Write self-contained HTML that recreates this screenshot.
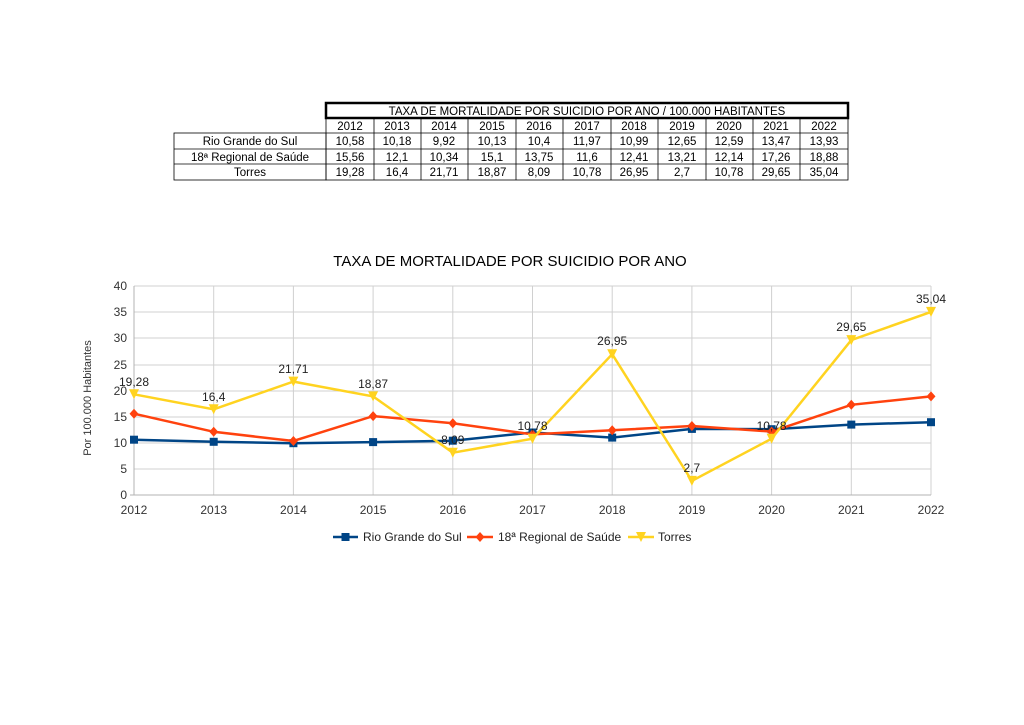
<!DOCTYPE html>
<html><head><meta charset="utf-8"><style>
body{margin:0;background:#fff;}
svg{display:block;font-family:"Liberation Sans",sans-serif;}
</style></head><body>
<svg width="1024" height="725" viewBox="0 0 1024 725">
<rect width="1024" height="725" fill="#fff"/>
<g font-size="11.5" fill="#000" text-anchor="middle">
<rect x="326" y="103" width="522" height="15" fill="none" stroke="#000" stroke-width="2.5"/>
<text x="587" y="115">TAXA DE MORTALIDADE POR SUICIDIO POR ANO / 100.000 HABITANTES</text>
<g stroke="#000" stroke-width="0.8" fill="none">
<rect x="326" y="118" width="522" height="62"/>
<rect x="174" y="133" width="152" height="47"/>
<line x1="174" y1="149" x2="848" y2="149"/><line x1="174" y1="164" x2="848" y2="164"/><line x1="326" y1="133" x2="848" y2="133"/>
<line x1="374" y1="118" x2="374" y2="180"/><line x1="421" y1="118" x2="421" y2="180"/><line x1="468" y1="118" x2="468" y2="180"/><line x1="516" y1="118" x2="516" y2="180"/><line x1="563" y1="118" x2="563" y2="180"/><line x1="611" y1="118" x2="611" y2="180"/><line x1="658" y1="118" x2="658" y2="180"/><line x1="706" y1="118" x2="706" y2="180"/><line x1="753" y1="118" x2="753" y2="180"/><line x1="800" y1="118" x2="800" y2="180"/>
</g>
<text x="250" y="145">Rio Grande do Sul</text><text x="250" y="161">18ª Regional de Saúde</text><text x="250" y="176">Torres</text>
<g>
<text x="350" y="130">2012</text><text x="397" y="130">2013</text><text x="444" y="130">2014</text><text x="492" y="130">2015</text><text x="539" y="130">2016</text><text x="587" y="130">2017</text><text x="634" y="130">2018</text><text x="682" y="130">2019</text><text x="729" y="130">2020</text><text x="776" y="130">2021</text><text x="824" y="130">2022</text>
<text x="350" y="145">10,58</text><text x="397" y="145">10,18</text><text x="444" y="145">9,92</text><text x="492" y="145">10,13</text><text x="539" y="145">10,4</text><text x="587" y="145">11,97</text><text x="634" y="145">10,99</text><text x="682" y="145">12,65</text><text x="729" y="145">12,59</text><text x="776" y="145">13,47</text><text x="824" y="145">13,93</text>
<text x="350" y="161">15,56</text><text x="397" y="161">12,1</text><text x="444" y="161">10,34</text><text x="492" y="161">15,1</text><text x="539" y="161">13,75</text><text x="587" y="161">11,6</text><text x="634" y="161">12,41</text><text x="682" y="161">13,21</text><text x="729" y="161">12,14</text><text x="776" y="161">17,26</text><text x="824" y="161">18,88</text>
<text x="350" y="176">19,28</text><text x="397" y="176">16,4</text><text x="444" y="176">21,71</text><text x="492" y="176">18,87</text><text x="539" y="176">8,09</text><text x="587" y="176">10,78</text><text x="634" y="176">26,95</text><text x="682" y="176">2,7</text><text x="729" y="176">10,78</text><text x="776" y="176">29,65</text><text x="824" y="176">35,04</text>
</g></g>
<text x="510" y="266" font-size="15" text-anchor="middle">TAXA DE MORTALIDADE POR SUICIDIO POR ANO</text>
<g stroke="#d0d0d0" stroke-width="1">
<line x1="134" y1="286" x2="931" y2="286"/><line x1="134" y1="312" x2="931" y2="312"/><line x1="134" y1="338" x2="931" y2="338"/><line x1="134" y1="365" x2="931" y2="365"/><line x1="134" y1="391" x2="931" y2="391"/><line x1="134" y1="417" x2="931" y2="417"/><line x1="134" y1="443" x2="931" y2="443"/><line x1="134" y1="469" x2="931" y2="469"/>
<line x1="213.7" y1="286" x2="213.7" y2="495"/><line x1="293.4" y1="286" x2="293.4" y2="495"/><line x1="373.1" y1="286" x2="373.1" y2="495"/><line x1="452.8" y1="286" x2="452.8" y2="495"/><line x1="532.5" y1="286" x2="532.5" y2="495"/><line x1="612.2" y1="286" x2="612.2" y2="495"/><line x1="691.9" y1="286" x2="691.9" y2="495"/><line x1="771.6" y1="286" x2="771.6" y2="495"/><line x1="851.3" y1="286" x2="851.3" y2="495"/><line x1="931" y1="286" x2="931" y2="495"/>
</g>
<g stroke="#b3b3b3"><line x1="134" y1="286" x2="134" y2="495"/><line x1="130" y1="495" x2="931" y2="495"/></g>
<g font-size="12" text-anchor="end" fill="#333">
<text x="127" y="290">40</text><text x="127" y="316">35</text><text x="127" y="342">30</text><text x="127" y="369">25</text><text x="127" y="395">20</text><text x="127" y="421">15</text><text x="127" y="447">10</text><text x="127" y="473">5</text><text x="127" y="499">0</text>
</g>
<g font-size="12" text-anchor="middle" fill="#333">
<text x="134" y="514">2012</text><text x="213.7" y="514">2013</text><text x="293.4" y="514">2014</text><text x="373.1" y="514">2015</text><text x="452.8" y="514">2016</text><text x="532.5" y="514">2017</text><text x="612.2" y="514">2018</text><text x="691.9" y="514">2019</text><text x="771.6" y="514">2020</text><text x="851.3" y="514">2021</text><text x="931" y="514">2022</text>
</g>
<text transform="translate(91,398) rotate(-90)" font-size="11" text-anchor="middle" fill="#333">Por 100.000 Habitantes</text>
<polyline fill="none" stroke="#004586" stroke-width="2.5" points="134,439.7 213.7,441.8 293.4,443.2 373.1,442.1 452.8,440.7 532.5,432.5 612.2,437.6 691.9,428.9 771.6,429.2 851.3,424.6 931,422.2"/>
<g fill="#004586"><rect x="130" y="435.7" width="8" height="8"/><rect x="209.7" y="437.8" width="8" height="8"/><rect x="289.4" y="439.2" width="8" height="8"/><rect x="369.1" y="438.1" width="8" height="8"/><rect x="448.8" y="436.7" width="8" height="8"/><rect x="528.5" y="428.5" width="8" height="8"/><rect x="608.2" y="433.6" width="8" height="8"/><rect x="687.9" y="424.9" width="8" height="8"/><rect x="767.6" y="425.2" width="8" height="8"/><rect x="847.3" y="420.6" width="8" height="8"/><rect x="927" y="418.2" width="8" height="8"/></g>
<polyline fill="none" stroke="#ff420e" stroke-width="2.5" points="134,413.7 213.7,431.8 293.4,441 373.1,416.1 452.8,423.2 532.5,434.4 612.2,430.2 691.9,426 771.6,431.6 851.3,404.8 931,396.4"/>
<g fill="#ff420e" id="d"></g>
<g fill="#ff420e">
<path d="M134 408.7l4.5 5-4.5 5-4.5-5z"/><path d="M213.7 426.8l4.5 5-4.5 5-4.5-5z"/><path d="M293.4 436l4.5 5-4.5 5-4.5-5z"/><path d="M373.1 411.1l4.5 5-4.5 5-4.5-5z"/><path d="M452.8 418.2l4.5 5-4.5 5-4.5-5z"/><path d="M532.5 429.4l4.5 5-4.5 5-4.5-5z"/><path d="M612.2 425.2l4.5 5-4.5 5-4.5-5z"/><path d="M691.9 421l4.5 5-4.5 5-4.5-5z"/><path d="M771.6 426.6l4.5 5-4.5 5-4.5-5z"/><path d="M851.3 399.8l4.5 5-4.5 5-4.5-5z"/><path d="M931 391.4l4.5 5-4.5 5-4.5-5z"/>
</g>
<polyline fill="none" stroke="#ffd320" stroke-width="2.5" points="134,394.3 213.7,409.3 293.4,381.6 373.1,396.4 452.8,452.7 532.5,438.7 612.2,354.2 691.9,480.9 771.6,438.7 851.3,340.1 931,311.9"/>
<g fill="#ffd320">
<path d="M129 389.3h10l-5 10z"/><path d="M208.7 404.3h10l-5 10z"/><path d="M288.4 376.6h10l-5 10z"/><path d="M368.1 391.4h10l-5 10z"/><path d="M447.8 447.7h10l-5 10z"/><path d="M527.5 433.7h10l-5 10z"/><path d="M607.2 349.2h10l-5 10z"/><path d="M686.9 475.9h10l-5 10z"/><path d="M766.6 433.7h10l-5 10z"/><path d="M846.3 335.1h10l-5 10z"/><path d="M926 306.9h10l-5 10z"/>
</g>
<g font-size="12" text-anchor="middle" fill="#222">
<text x="134" y="386">19,28</text><text x="213.7" y="401">16,4</text><text x="293.4" y="373">21,71</text><text x="373.1" y="388">18,87</text><text x="452.8" y="444">8,09</text><text x="532.5" y="430">10,78</text><text x="612.2" y="345">26,95</text><text x="691.9" y="472">2,7</text><text x="771.6" y="430">10,78</text><text x="851.3" y="331">29,65</text><text x="931" y="303">35,04</text>
</g>
<g font-size="12" fill="#222">
<line x1="333" y1="537" x2="358" y2="537" stroke="#004586" stroke-width="2.5"/><rect x="341.5" y="533" width="8" height="8" fill="#004586"/><text x="363" y="541">Rio Grande do Sul</text>
<line x1="467" y1="537" x2="493" y2="537" stroke="#ff420e" stroke-width="2.5"/><path d="M480 532l4.5 5-4.5 5-4.5-5z" fill="#ff420e"/><text x="498" y="541">18ª Regional de Saúde</text>
<line x1="628" y1="537" x2="654" y2="537" stroke="#ffd320" stroke-width="2.5"/><path d="M636 532h10l-5 10z" fill="#ffd320"/><text x="658" y="541">Torres</text>
</g>
</svg>
</body></html>
